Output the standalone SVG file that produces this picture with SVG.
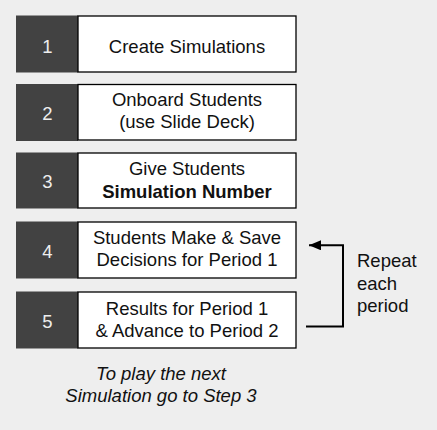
<svg xmlns="http://www.w3.org/2000/svg" width="437" height="430" viewBox="0 0 437 430">
<style>
.num{fill:#424242}
.box{fill:#ffffff;stroke:#000000;stroke-width:1.3}
.nt{font-family:"Liberation Sans",Arial,sans-serif;font-size:18.5px;fill:#eeeeee;text-anchor:middle}
.t{font-family:"Liberation Sans",Arial,sans-serif;font-size:18.5px;fill:#111111;text-anchor:middle}
.b{font-weight:bold}
.it{font-family:"Liberation Sans",Arial,sans-serif;font-size:18.5px;fill:#111111;text-anchor:middle;font-style:italic}
.side{font-family:"Liberation Sans",Arial,sans-serif;font-size:18.5px;fill:#111111}
.conn{fill:none;stroke:#000000;stroke-width:2}
</style>
<defs>
<marker id="ah" markerWidth="12" markerHeight="10" refX="12" refY="5" orient="auto" markerUnits="userSpaceOnUse">
<path d="M0,0 L12,5 L0,10 Z" fill="#000000"/>
</marker>
</defs>
<rect width="437" height="430" fill="#eeeeee"/>
<g id="step1">
<rect class="num" x="16" y="15.5" width="62" height="57"/>
<rect class="box" x="78" y="16" width="218" height="56"/>
<text class="nt" x="47.5" y="52.5">1</text>
<text class="t" x="187" y="52.5">Create Simulations</text>
</g>
<g id="step2">
<rect class="num" x="16" y="84" width="62" height="57"/>
<rect class="box" x="78" y="84.5" width="218" height="55.5"/>
<text class="nt" x="47.5" y="120">2</text>
<text class="t" x="187" y="106">Onboard Students</text>
<text class="t" x="187" y="128">(use Slide Deck)</text>
</g>
<g id="step3">
<rect class="num" x="16" y="152.5" width="62" height="56"/>
<rect class="box" x="78" y="153" width="218" height="55"/>
<text class="nt" x="47.5" y="187.5">3</text>
<text class="t" x="187" y="175">Give Students</text>
<text class="t b" x="187" y="197.5">Simulation Number</text>
</g>
<g id="step4">
<rect class="num" x="16" y="221.5" width="62" height="57"/>
<rect class="box" x="78" y="222" width="218" height="56"/>
<text class="nt" x="47.5" y="257.5">4</text>
<text class="t" x="187" y="244">Students Make &amp; Save</text>
<text class="t" x="187" y="266">Decisions for Period 1</text>
</g>
<g id="step5">
<rect class="num" x="16" y="291.5" width="62" height="57"/>
<rect class="box" x="78" y="292" width="218" height="56"/>
<text class="nt" x="47.5" y="327.5">5</text>
<text class="t" x="187" y="314.5">Results for Period 1</text>
<text class="t" x="187" y="337">&amp; Advance to Period 2</text>
</g>
<g id="connectors">
<path class="conn" d="M306,326.5 H343 V245.3 H309" marker-end="url(#ah)"/>
</g>
<g id="labels">
<text class="side" x="357" y="267">Repeat</text>
<text class="side" x="357" y="289.5">each</text>
<text class="side" x="357" y="311.5">period</text>
<text class="it" x="161" y="380">To play the next</text>
<text class="it" x="161" y="402">Simulation go to Step 3</text>
</g>
</svg>
